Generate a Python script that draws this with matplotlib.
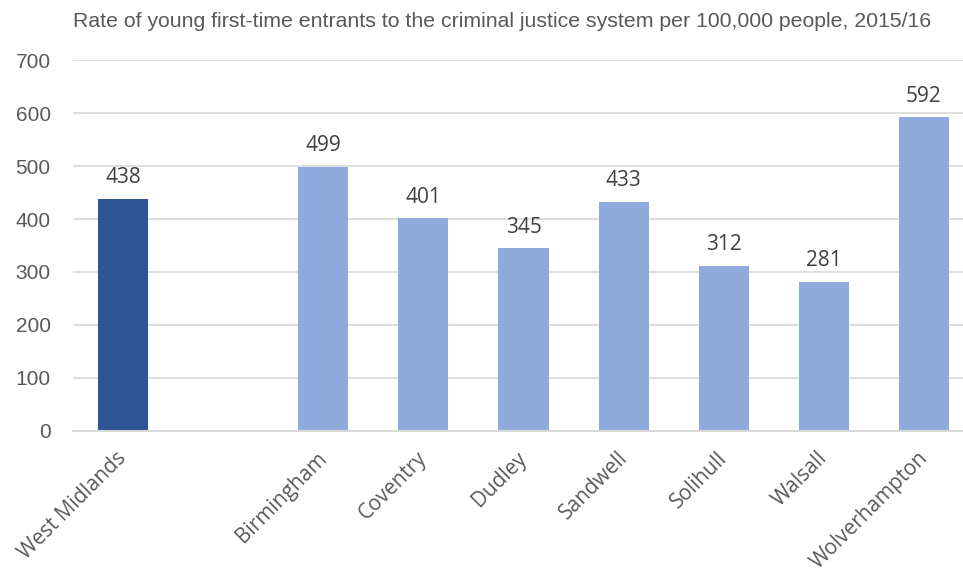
import matplotlib
matplotlib.use("Agg")
import matplotlib.pyplot as plt
from matplotlib.transforms import ScaledTranslation

categories = ["West Midlands", "", "Birmingham", "Coventry", "Dudley", "Sandwell",
              "Solihull", "Walsall", "Wolverhampton"]
values = [438, None, 499, 401, 345, 433, 312, 281, 592]
title = "Rate of young first-time entrants to the criminal justice system per 100,000 people, 2015/16"

DARK = "#2F5597"
LIGHT = "#8FAADC"
GRID = "#D9D9D9"

plt.rcParams["font.family"] = ["Liberation Sans", "DejaVu Sans"]

fig = plt.figure(figsize=(9.63, 5.71), dpi=100)
ax = fig.add_axes([0.0758, 0.2452, 0.9242, 0.6497])

xs = [i for i, v in enumerate(values) if v is not None]
vs = [v for v in values if v is not None]
colors = [DARK if i == 0 else LIGHT for i in xs]
ax.bar(xs, vs, width=0.5, color=colors, zorder=3)

for x, v in zip(xs, vs):
    ax.text(x, v + 20, str(v), ha="center", va="bottom", fontsize=15, color="#404040",
            family=["Open Sans", "DejaVu Sans"])

ax.set_xlim(-0.5, 8.39)
ax.set_ylim(0, 700)
ax.set_yticks(range(0, 701, 100))
ax.yaxis.grid(True, color=GRID, linewidth=1.2, zorder=0)
for s in ["top", "right", "left"]:
    ax.spines[s].set_visible(False)
ax.spines["bottom"].set_color(GRID)
ax.spines["bottom"].set_linewidth(1.5)
ax.spines["bottom"].set_zorder(4)
ax.tick_params(axis="y", length=0, pad=16, labelsize=15, labelcolor="#595959")
ax.tick_params(axis="x", length=0, pad=12)
ax.set_xticks(range(len(categories)))
ax.set_xticklabels(categories, rotation=45, ha="right", rotation_mode="anchor",
                   fontsize=15, color="#595959", family=["Open Sans", "DejaVu Sans"])
shift = ScaledTranslation(-5 / 72, 0, fig.dpi_scale_trans)
for lab in ax.get_xticklabels():
    lab.set_transform(lab.get_transform() + shift)

fig.text(0.0758, 0.962, title, ha="left", va="center", fontsize=15.3, color="#595959")

fig.savefig("out.png", dpi=100)
